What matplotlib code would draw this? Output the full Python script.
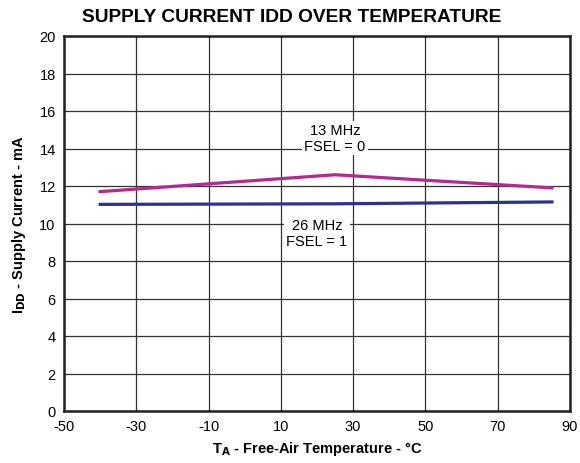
import matplotlib.pyplot as plt

plt.rcParams["font.family"] = ["Liberation Sans", "DejaVu Sans"]
plt.rcParams["axes.unicode_minus"] = False

# Data
temps = [-40, 25, 85]
idd_13mhz = [11.7, 12.6, 11.9]
idd_26mhz = [11.02, 11.05, 11.15]
x_ticks = [-50, -30, -10, 10, 30, 50, 70, 90]
y_ticks = [0, 2, 4, 6, 8, 10, 12, 14, 16, 18, 20]

fig = plt.figure(figsize=(5.8, 4.64), dpi=100)
ax = fig.add_axes([64 / 580, 52 / 464, 506 / 580, 375 / 464])

ax.plot(temps, idd_13mhz, color="#B5288F", linewidth=2.3, zorder=3)
ax.plot(temps, idd_26mhz, color="#2E3192", linewidth=2.3, zorder=3)

ax.set_xlim(-50, 90)
ax.set_ylim(0, 20)
ax.set_xticks(x_ticks)
ax.set_yticks(y_ticks)
ax.grid(True, color="#333333", linewidth=0.9)
ax.tick_params(length=0, labelsize=10.5, pad=6)
for s in ax.spines.values():
    s.set_linewidth(1.8)
    s.set_color("#222222")

ax.text(25, 14.55, "13 MHz\nFSEL = 0", ha="center", va="center", fontsize=10.5,
        linespacing=1.15, bbox=dict(facecolor="white", edgecolor="none", pad=1.5), zorder=4)
ax.text(20, 9.5, "26 MHz\nFSEL = 1", ha="center", va="center", fontsize=10.5,
        linespacing=1.15, bbox=dict(facecolor="white", edgecolor="none", pad=1.5), zorder=4)

# title is centred on the figure, not on the plot area
fig.text(292 / 580, 1 - 17 / 464, "SUPPLY CURRENT IDD OVER TEMPERATURE", fontsize=13.8,
         fontweight="bold", ha="center", va="center")
ax.set_xlabel(r"T$_\mathbf{A}$ - Free-Air Temperature - °C", fontsize=10.5, fontweight="bold", labelpad=4)
ax.set_ylabel(r"I$_\mathbf{DD}$ - Supply Current - mA", fontsize=10.5, fontweight="bold", labelpad=8)

fig.savefig("out.png", dpi=100)
